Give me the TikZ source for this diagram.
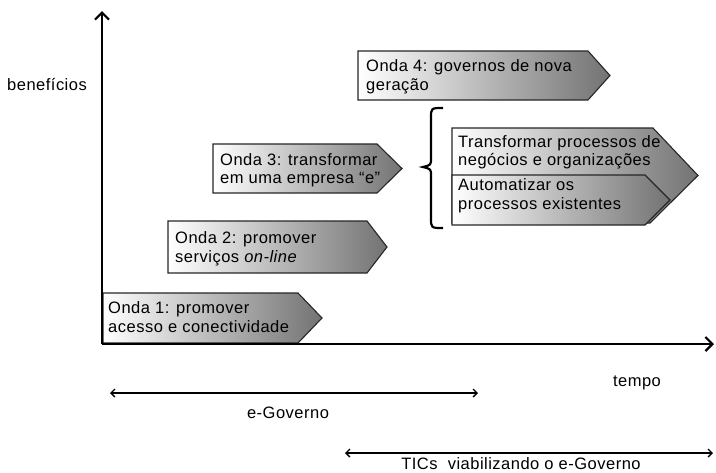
\documentclass[tikz,border=0pt]{standalone}
\usepackage{fontspec}
\setmainfont[LetterSpace=3]{Liberation Sans}
\usetikzlibrary{arrows.meta}
\newcommand\wavefont{\fontsize{16.5}{19.5}\selectfont}
\tikzset{
  wave/.style={draw=black!85, line width=1.1pt, left color=white, right color=black!55, line join=miter},
  wavetext/.style={anchor=north west, inner sep=0pt, align=left, font=\wavefont},
  label/.style={inner sep=0pt, font=\wavefont},
  axis/.style={line width=2.4pt, -{Straight Barb[length=7pt,width=14pt,line width=2.2pt]}},
  span/.style={line width=1.3pt, {Straight Barb[length=4pt,width=8pt]}-{Straight Barb[length=4pt,width=8pt]}}
}
\begin{document}
\begin{tikzpicture}[x=1pt,y=-1pt]
\useasboundingbox (0,0) rectangle (716,472);

% axes
\coordinate (o) at (102,344);
\coordinate (ytop) at (102,11);
\coordinate (xend) at (714,344);

% wave 1
\draw[wave] (103,293) -- (298,293) -- (322,318) -- (298,343) -- (103,343) -- cycle;
\node[wavetext] (w1) at (108,299.3) {\strut Onda 1: promover\\\strut acesso e conectividade};

% wave 2
\draw[wave] (168,221) -- (367,221) -- (387,247) -- (367,273) -- (168,273) -- cycle;
\node[wavetext] (w2) at (175,229.3) {\strut Onda 2: promover\\\strut serviços \textit{on-line}};

% wave 3
\draw[wave] (213,144) -- (377,144) -- (402,168.5) -- (377,193) -- (213,193) -- cycle;
\node[wavetext, font=\fontsize{16.5}{18.5}\selectfont] (w3) at (220,152) {\strut Onda 3: transformar\\\strut em uma empresa “e”};

% wave 4
\draw[wave] (358,51) -- (588,51) -- (610,75.5) -- (588,100) -- (358,100) -- cycle;
\node[wavetext] (w4) at (366,57.5) {\strut Onda 4: governos de nova\\\strut geração};

% transformation steps
\draw[wave] (452,128) -- (653,128) -- (698,175.5) -- (650,223) -- (452,223) -- cycle;
\node[wavetext, font=\fontsize{16.5}{18.5}\selectfont] (t1) at (458,134) {\strut Transformar processos de\\\strut negócios e organizações};
\draw[wave] (452,175) -- (645,175) -- (670,200) -- (645,225) -- (452,225) -- cycle;
\node[wavetext] (t2) at (458,176.5) {\strut Automatizar os\\\strut processos existentes};

% brace grouping the steps
\draw[line width=2.2pt] (443,108) .. controls (431,108) .. (431,118) -- (431,158)
  .. controls (431,165) .. (423,167) .. controls (431,169) .. (431,176) -- (431,218)
  .. controls (431,228) .. (443,228);

\draw[axis] (o) -- (ytop);
\draw[axis] (o) -- (xend);

% axis labels
\node[label] (ben) at (47,85) {benefícios};
\node[label] (tempo) at (637,383) {tempo};

% spans
\coordinate (eg1) at (110,393);
\coordinate (eg2) at (478,393);
\draw[span] (eg1) -- (eg2);
\node[label] (eg) at (288,413) {e-Governo};

\coordinate (tic1) at (345,453);
\coordinate (tic2) at (713,453);
\draw[span] (tic1) -- (tic2);
\node[label] (tic) at (521,464) {TICs\ \ viabilizando o e-Governo};
\end{tikzpicture}
\end{document}
